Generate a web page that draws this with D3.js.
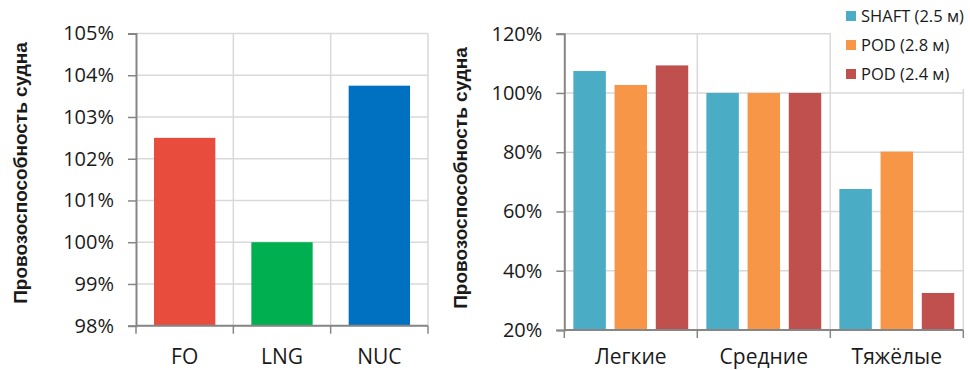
<!DOCTYPE html>
<html>
<head>
<meta charset="utf-8">
<script src="https://cdn.jsdelivr.net/npm/d3@7"></script>
<style>
  html, body { margin: 0; padding: 0; background: #fff; }
  svg { display: block; }
  text { font-family: "Open Sans", sans-serif; fill: #1a1a1a; }
  .title { font-family: "Liberation Sans", Arial, sans-serif; font-weight: bold; }
</style>
</head>
<body>
<svg id="chart" width="970" height="370"></svg>
<script>
// Fuel type comparison (left panel)
const fuelCategories = ["FO", "LNG", "NUC"];
const fuelValues = [102.5, 100, 103.75];
const fuelColors = ["#E84C3D", "#00B050", "#0070C0"];
const fuelTicks = [98, 99, 100, 101, 102, 103, 104, 105];

// Propulsion variants by ice class (right panel)
const iceCategories = ["Легкие", "Средние", "Тяжёлые"];
const seriesNames = ["SHAFT (2.5 м)", "POD (2.8 м)", "POD (2.4 м)"];
const shaftValues = [107.4, 100, 67.6];
const pod28Values = [102.7, 100, 80.2];
const pod24Values = [109.3, 100, 32.5];
const seriesColors = ["#4BACC6", "#F79646", "#C0504D"];
const iceTicks = [20, 40, 60, 80, 100, 120];

const yTitle = "Провозоспособность судна";

const svg = d3.select("#chart");
const gridColor = "#d9d9d9";
const axisColor = "#868686";

function drawFrame(g, x, y, ticks, categories, yBottom, yTop) {
  // horizontal gridlines
  g.selectAll(".hgrid").data(ticks).join("line")
    .attr("x1", x.range()[0]).attr("x2", x.range()[1])
    .attr("y1", d => y(d)).attr("y2", d => y(d))
    .attr("stroke", gridColor).attr("stroke-width", 1.5);
  // vertical gridlines at category boundaries
  const bounds = categories.map(c => x(c)).concat([x.range()[1]]);
  g.selectAll(".vgrid").data(bounds.slice(1)).join("line")
    .attr("x1", d => d).attr("x2", d => d)
    .attr("y1", yTop).attr("y2", yBottom)
    .attr("stroke", gridColor).attr("stroke-width", 1.5);
  return bounds;
}

function drawAxes(g, x, y, ticks, bounds, fmt) {
  const yB = y.range()[0];
  // y axis
  const ya = g.append("g").attr("transform", `translate(${x.range()[0]},0)`)
    .call(d3.axisLeft(y).tickValues(ticks).tickSize(8).tickPadding(14).tickFormat(fmt));
  ya.select(".domain").attr("stroke", axisColor).attr("stroke-width", 2);
  ya.selectAll(".tick line").attr("stroke", axisColor).attr("stroke-width", 1.5);
  ya.selectAll(".tick text").style("font-size", "20px").style("font-family", "'Open Sans', sans-serif").attr("fill", "#1a1a1a");
  // x axis line and boundary ticks
  g.append("line")
    .attr("x1", x.range()[0]).attr("x2", x.range()[1])
    .attr("y1", yB).attr("y2", yB)
    .attr("stroke", axisColor).attr("stroke-width", 2);
  g.selectAll(".xtick").data(bounds).join("line")
    .attr("x1", d => d).attr("x2", d => d)
    .attr("y1", yB).attr("y2", yB + 8)
    .attr("stroke", axisColor).attr("stroke-width", 1.5);
}

// ---------- Left panel ----------
{
  const g = svg.append("g");
  const x = d3.scaleBand().domain(fuelCategories).range([136, 428]).padding(0);
  const y = d3.scaleLinear().domain([98, 105]).range([325.7, 33.5]);
  const bounds = drawFrame(g, x, y, fuelTicks, fuelCategories, y.range()[0], y.range()[1]);

  const bw = x.bandwidth();
  g.selectAll(".bar").data(fuelCategories).join("rect")
    .attr("x", d => x(d) + bw * 0.185)
    .attr("width", bw * 0.63)
    .attr("y", (d, i) => y(fuelValues[i]))
    .attr("height", (d, i) => y(98) - y(fuelValues[i]))
    .attr("fill", (d, i) => fuelColors[i]);

  drawAxes(g, x, y, fuelTicks, bounds, d => d + "%");

  g.selectAll(".xlab").data(fuelCategories).join("text")
    .attr("x", d => x(d) + bw / 2)
    .attr("y", 364)
    .attr("text-anchor", "middle")
    .style("font-size", "21px")
    .text(d => d);

  g.append("text").attr("class", "title")
    .attr("transform", `translate(27,173) rotate(-90)`)
    .attr("text-anchor", "middle")
    .style("font-size", "19px")
    .text(yTitle);
}

// ---------- Right panel ----------
{
  const g = svg.append("g");
  const x0 = d3.scaleBand().domain(iceCategories).range([564.3, 963.3]).padding(0);
  const x1 = d3.scaleBand().domain(seriesNames).range([0, x0.bandwidth()])
    .paddingInner(0.212).paddingOuter(0.22);
  const y = d3.scaleLinear().domain([20, 120]).range([330, 33.7]);
  const bounds = drawFrame(g, x0, y, iceTicks, iceCategories, y.range()[0], y.range()[1]);

  const seriesValues = [shaftValues, pod28Values, pod24Values];
  const groups = g.selectAll(".grp").data(iceCategories).join("g")
    .attr("transform", d => `translate(${x0(d)},0)`);
  groups.selectAll("rect")
    .data((c, ci) => seriesNames.map((s, si) => ({ s, si, v: seriesValues[si][ci] })))
    .join("rect")
    .attr("x", d => x1(d.s))
    .attr("width", x1.bandwidth())
    .attr("y", d => y(d.v))
    .attr("height", d => y(20) - y(d.v))
    .attr("fill", d => seriesColors[d.si]);

  // legend panel sits over the upper-right gridlines
  g.append("rect").attr("x", 831).attr("y", 0).attr("width", 139).attr("height", 89).attr("fill", "#fff");

  drawAxes(g, x0, y, iceTicks, bounds, d => d + "%");

  g.selectAll(".xlab").data(iceCategories).join("text")
    .attr("x", d => x0(d) + x0.bandwidth() / 2)
    .attr("y", 364)
    .attr("text-anchor", "middle")
    .style("font-size", "21px")
    .text(d => d);

  g.append("text").attr("class", "title")
    .attr("transform", `translate(467,178) rotate(-90)`)
    .attr("text-anchor", "middle")
    .style("font-size", "19px")
    .text(yTitle);

  const leg = g.selectAll(".leg").data(seriesNames).join("g")
    .attr("transform", (d, i) => `translate(846,${16 + i * 29})`);
  leg.append("rect").attr("x", 0).attr("y", -5).attr("width", 10).attr("height", 10)
    .attr("fill", (d, i) => seriesColors[i]);
  leg.append("text").attr("x", 15).attr("y", 6)
    .style("font-size", "16.5px")
    .text(d => d);
}
</script>
</body>
</html>
